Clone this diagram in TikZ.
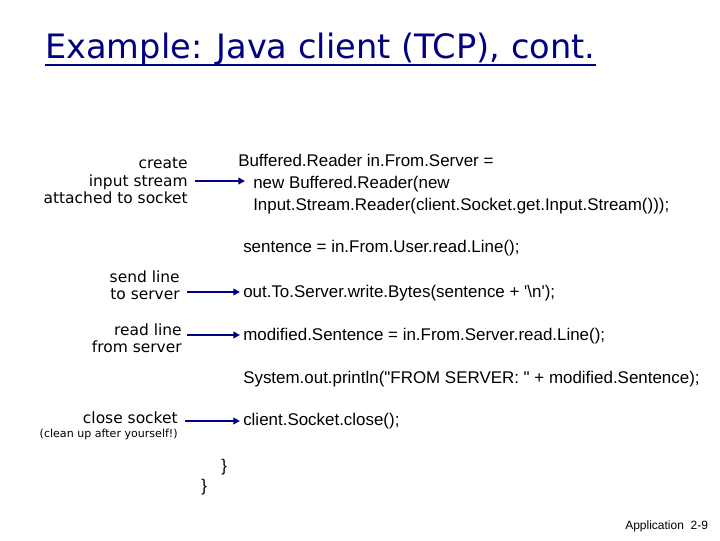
\documentclass[tikz,border=0pt]{standalone}
\usepackage{fontspec}
\setmainfont{Liberation Sans}
\newfontfamily\codefont{Liberation Sans}
\newfontfamily\labelfont{DejaVu Sans}
\usetikzlibrary{arrows.meta}
\definecolor{titleblue}{RGB}{0,0,128}
\tikzset{
  codeline/.style={anchor=base west, inner sep=0pt, font=\codefont\fontsize{12.7}{14}\selectfont},
  note/.style={anchor=base east, inner sep=0pt, font=\labelfont\fontsize{11.6}{13}\selectfont},
  pointer/.style={-{Triangle[length=5pt,width=5pt]}, line width=1.4pt, draw=titleblue}
}
\begin{document}
\begin{tikzpicture}[x=0.75pt,y=-0.75pt]
    \useasboundingbox (0,0) rectangle (720,540);
    % title
    \node[anchor=base west, inner sep=0pt, text=titleblue, font=\labelfont\fontsize{25.2}{28}\selectfont] (title) at (45,58) {Example: Java client (TCP), cont.};
    \draw[titleblue, line width=1.2pt] (title.base west) ++(0,7) -- ([yshift=-7*0.75pt]title.base east);

    % notes
    \node[note] (create1) at (188,168) {create};
    \node[note] (create2) at (188,186) {input stream};
    \node[note] (create3) at (188,203) {attached to socket};
    \node[note] (send1) at (180,282) {send line};
    \node[note] (send2) at (180,299) {to server};
    \node[note] (read1) at (182,335) {read line};
    \node[note] (read2) at (182,352) {from server};
    \node[note] (close1) at (178,423) {close socket};
    \node[note, font=\labelfont\fontsize{8.3}{9}\selectfont] (close2) at (178,437) {(clean up after yourself!)};

    % code
    \node[codeline] (c1) at (238,166) {Buffered.Reader in.From.Server =};
    \node[codeline] (c2) at (253,188) {new Buffered.Reader(new};
    \node[codeline] (c3) at (253,210) {Input.Stream.Reader(client.Socket.get.Input.Stream()));};
    \node[codeline] (c4) at (243,252) {sentence = in.From.User.read.Line();};
    \node[codeline] (c5) at (243,297) {out.To.Server.write.Bytes(sentence + '\textbackslash n');};
    \node[codeline] (c6) at (243,340) {modified.Sentence = in.From.Server.read.Line();};
    \node[codeline] (c7) at (243,383) {System.out.println("FROM SERVER: " + modified.Sentence);};
    \node[codeline] (c8) at (243,425) {client.Socket.close();};
    \node[codeline] (b1) at (221,471) {\}};
    \node[codeline] (b2) at (201,491) {\}};
    \node[anchor=base west, inner sep=0pt, font=\fontsize{9}{10}\selectfont] (foot) at (625,529) {Application\ \ 2-9};

    % pointers
    \coordinate (p1) at (195,181);
    \coordinate (q1) at (245,181);
    \coordinate (p2) at (187,292);
    \coordinate (q2) at (240,292);
    \coordinate (p3) at (187,335);
    \coordinate (q3) at (240,335);
    \coordinate (p4) at (185,421);
    \coordinate (q4) at (240,421);
    \foreach \i in {1,...,4}
        \draw[pointer] (p\i) -- (q\i);
\end{tikzpicture}
\end{document}
